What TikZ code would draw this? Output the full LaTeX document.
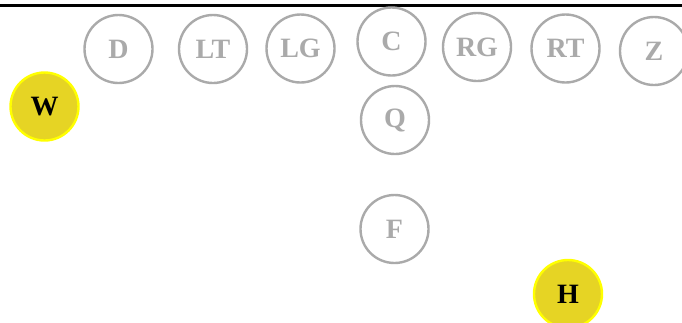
\documentclass[tikz,border=0pt]{standalone}
\usepackage{fontspec}
\setmainfont{Liberation Serif}
\definecolor{ringgray}{HTML}{AAAAAA}
\definecolor{playeryellow}{HTML}{E6D424}
\definecolor{rimyellow}{HTML}{FFFF00}
\begin{document}
\begin{tikzpicture}[x=1pt,y=-1pt,
  player/.style={circle,draw=ringgray,line width=2.4pt,minimum size=68pt,inner sep=0pt,
    text=ringgray,font=\fontsize{28}{28}\selectfont\bfseries},
  hot/.style={player,fill=playeryellow,draw=rimyellow,text=black}]
\useasboundingbox (0,0) rectangle (682,322);
\clip (0,0) rectangle (682,322);
\fill[white] (0,0) rectangle (682,322);
\coordinate (lineL) at (0,5);
\coordinate (lineR) at (682,5);
\draw[line width=3pt,black] (lineL) -- (lineR);
\node[player] (D) at (118.5,49) {D};
\node[player] (LT) at (213,49) {LT};
\node[player] (LG) at (300.5,48.5) {LG};
\node[player] (C) at (391.5,41.5) {C};
\node[player] (RG) at (477,47) {RG};
\node[player] (RT) at (565.5,48.5) {RT};
\node[player] (Z) at (654,51) {Z};
\node[player] (Q) at (395,120) {Q};
\node[player] (F) at (394.5,229) {F};
\node[hot] (W) at (44.5,106.5) {W};
\node[hot] (H) at (568,294) {H};
\end{tikzpicture}
\end{document}
